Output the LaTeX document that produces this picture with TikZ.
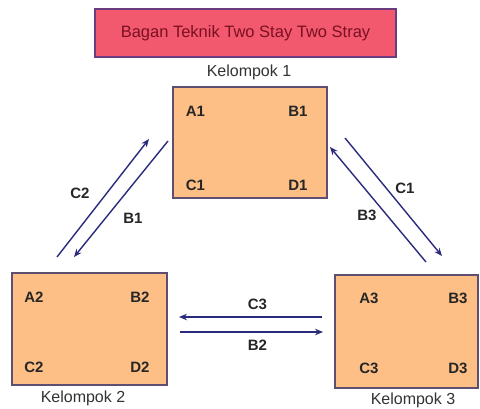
\documentclass[tikz,border=0pt]{standalone}
\usepackage{fontspec}
\setmainfont{Liberation Sans}
\usetikzlibrary{arrows.meta}
\definecolor{boxfill}{HTML}{FDBF85}
\definecolor{boxline}{HTML}{5E4E72}
\definecolor{titlefill}{HTML}{F2596F}
\definecolor{titleline}{HTML}{6B3A80}
\definecolor{titletext}{HTML}{7A1020}
\definecolor{arrowc}{HTML}{2B2B7E}
\begin{document}
\begin{tikzpicture}[x=1pt,y=-1pt,
  groupbox/.style={draw=boxline,fill=boxfill,line width=1.6pt,inner sep=0pt},
  member/.style={font=\fontsize{15}{17}\selectfont\bfseries,text=black!85,inner sep=0pt},
  grouplabel/.style={font=\fontsize{16}{18}\selectfont,text=black!80,inner sep=0pt},
  flow/.style={draw=arrowc,line width=1.4pt,-{Stealth[length=8pt,width=6.5pt]}},
  flowlabel/.style={font=\fontsize{15}{17}\selectfont\bfseries,text=black!85,inner sep=0pt}]
\useasboundingbox (0,0) rectangle (480,409);
\fill[white] (0,0) rectangle (480,409);
% title
\node[draw=titleline,fill=titlefill,line width=1.6pt,minimum width=301pt,minimum height=48pt,inner sep=0pt,
  font=\fontsize{16.5}{18}\selectfont,text=titletext] (title) at (245.5,33) {Bagan Teknik Two Stay Two Stray};
% groups
\node[groupbox,minimum width=154pt,minimum height=111pt] (g1) at (250,142.5) {};
\node[groupbox,minimum width=155pt,minimum height=112pt] (g2) at (89.5,329) {};
\node[groupbox,minimum width=143pt,minimum height=113pt] (g3) at (406.5,331.5) {};
\node[grouplabel] (k1) at (249,72) {Kelompok 1};
\node[grouplabel] (k2) at (83,398) {Kelompok 2};
\node[grouplabel] (k3) at (413,400) {Kelompok 3};
% members
\node[member] (a1) at (195.5,111) {A1};
\node[member] (b1) at (298,111) {B1};
\node[member] (c1) at (195.5,185) {C1};
\node[member] (d1) at (298,185) {D1};
\node[member] (a2) at (34,297) {A2};
\node[member] (b2) at (140,297) {B2};
\node[member] (c2) at (34,367) {C2};
\node[member] (d2) at (140,367) {D2};
\node[member] (a3) at (369,298) {A3};
\node[member] (b3) at (458,298) {B3};
\node[member] (c3) at (369,368) {C3};
\node[member] (d3) at (458,368) {D3};
% arrow end points
\coordinate (p1s) at (57,257);
\coordinate (p1e) at (149,139);
\coordinate (p2s) at (168,141);
\coordinate (p2e) at (74,257);
\coordinate (p3s) at (426,262);
\coordinate (p3e) at (330,147);
\coordinate (p4s) at (345,138);
\coordinate (p4e) at (442,256);
\coordinate (p5s) at (322,317);
\coordinate (p5e) at (179,317);
\coordinate (p6s) at (180,332);
\coordinate (p6e) at (323,332);
\draw[flow] (p1s) -- (p1e);
\draw[flow] (p2s) -- (p2e);
\draw[flow] (p3s) -- (p3e);
\draw[flow] (p4s) -- (p4e);
\draw[flow] (p5s) -- (p5e);
\draw[flow] (p6s) -- (p6e);
% arrow labels
\node[flowlabel] (lc2) at (80,193) {C2};
\node[flowlabel] (lb1) at (133,218) {B1};
\node[flowlabel] (lc1) at (405,188) {C1};
\node[flowlabel] (lb3) at (367,215) {B3};
\node[flowlabel] (lc3) at (257.5,304) {C3};
\node[flowlabel] (lb2) at (257.5,345) {B2};
\end{tikzpicture}
\end{document}
